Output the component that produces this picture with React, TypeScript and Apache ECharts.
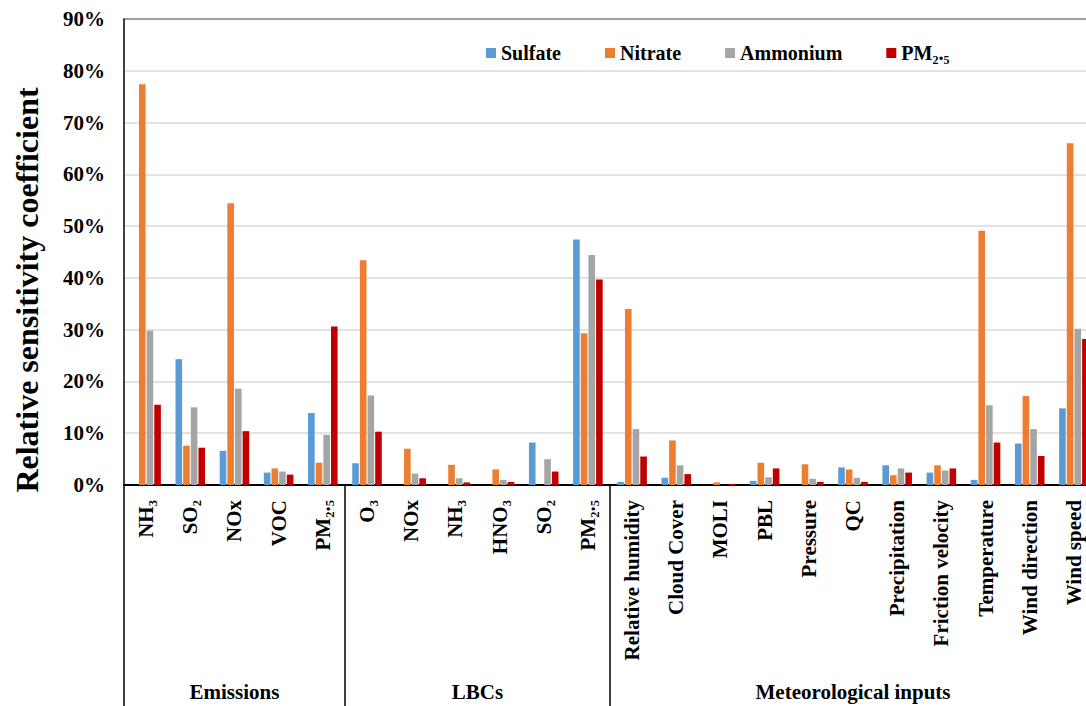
import React, { useEffect, useRef } from "react";
import * as echarts from "echarts";

const categories = [
  "NH₃", "SO₂", "NOx", "VOC", "PM₂.₅",
  "O₃", "NOx", "NH₃", "HNO₃", "SO₂", "PM₂.₅",
  "Relative humidity", "Cloud Cover", "MOLI", "PBL", "Pressure", "QC",
  "Precipitation", "Friction velocity", "Temperature", "Wind direction", "Wind speed",
];

const groups = ["Emissions", "LBCs", "Meteorological inputs"];
const groupBoundaries = [0, 5, 11];

const sulfate = [0, 24.3, 6.6, 2.4, 13.9, 4.2, 0, 0, 0, 8.2, 47.4, 0.6, 1.4, 0, 0.8, 0, 3.4, 3.8, 2.4, 1.0, 8.0, 14.8];
const nitrate = [77.4, 7.6, 54.4, 3.2, 4.3, 43.4, 7.0, 3.9, 3.0, 0, 29.3, 34.0, 8.6, 0.5, 4.3, 4.0, 3.0, 1.9, 3.8, 49.1, 17.2, 66.0];
const ammonium = [29.8, 15.0, 18.6, 2.6, 9.7, 17.3, 2.2, 1.3, 1.0, 5.0, 44.4, 10.8, 3.8, 0, 1.5, 1.2, 1.4, 3.2, 2.8, 15.4, 10.8, 30.2];
const pm25 = [15.5, 7.2, 10.4, 2.0, 30.6, 10.3, 1.3, 0.5, 0.6, 2.6, 39.7, 5.5, 2.1, 0.2, 3.2, 0.6, 0.6, 2.4, 3.2, 8.2, 5.6, 28.2];

const yTicks = [0, 10, 20, 30, 40, 50, 60, 70, 80, 90];
const yTitle = "Relative sensitivity coefficient";

const FONT = "'Liberation Serif', 'Times New Roman', serif";

export default function App() {
  const ref = useRef<HTMLDivElement>(null);
  useEffect(() => {
    if (!ref.current) return;
    const chart = echarts.init(ref.current, null, { renderer: "svg" });
    const seriesDefs = [
      { name: "Sulfate", data: sulfate, color: "#5B9BD5" },
      { name: "Nitrate", data: nitrate, color: "#ED7D31" },
      { name: "Ammonium", data: ammonium, color: "#A5A5A5" },
      { name: "PM₂.₅", data: pm25, color: "#C00000" },
    ];
    const gridLeft = 124;
    const plotW = 972;
    const catW = plotW / categories.length;
    const groupEnds = [...groupBoundaries.slice(1), categories.length];
    chart.setOption({
      animation: false,
      textStyle: { fontFamily: FONT },
      legend: {
        left: 481,
        top: 38,
        itemWidth: 10,
        itemHeight: 10,
        itemGap: 44,
        icon: "rect",
        textStyle: { fontFamily: FONT, fontWeight: "bold", fontSize: 20, color: "#000" },
        data: seriesDefs.map((s) => s.name),
      },
      grid: {
        left: gridLeft,
        width: plotW,
        top: 19,
        bottom: 221,
        containLabel: false,
        outerBoundsMode: "none",
      },
      xAxis: {
        type: "category",
        data: categories,
        axisLine: { lineStyle: { color: "#000", width: 2 } },
        axisTick: {
          show: true,
          alignWithLabel: false,
          interval: (i: number) => groupBoundaries.includes(i),
          length: 221,
          lineStyle: { color: "#000", width: 1.5 },
        },
        axisLabel: {
          interval: 0,
          rotate: 90,
          margin: 15,
          fontFamily: FONT,
          fontWeight: "bold",
          fontSize: 21,
          color: "#000",
        },
      },
      yAxis: {
        type: "value",
        min: yTicks[0],
        max: yTicks[yTicks.length - 1],
        interval: 10,
        axisLine: { show: true, lineStyle: { color: "#000", width: 1.5 } },
        axisTick: { show: false },
        axisLabel: {
          formatter: "{value}%",
          fontFamily: FONT,
          fontWeight: "bold",
          fontSize: 21,
          color: "#000",
          margin: 19,
        },
        splitLine: {
          lineStyle: {
            color: ["#d9d9d9", "#d9d9d9", "#d9d9d9", "#d9d9d9", "#d9d9d9", "#d9d9d9", "#d9d9d9", "#d9d9d9", "#d9d9d9", "#808080"],
            width: 1.5,
          },
        },
      },
      graphic: [
        {
          type: "text",
          x: 27,
          y: 290,
          rotation: Math.PI / 2,
          style: {
            text: yTitle,
            fontFamily: FONT,
            fontWeight: "bold",
            fontSize: 32,
            fill: "#000",
            textAlign: "center",
            textVerticalAlign: "middle",
          },
        },
        ...groups.map((g, i) => ({
          type: "text",
          x: gridLeft + ((groupBoundaries[i] + groupEnds[i]) / 2) * catW,
          y: 692,
          style: {
            text: g,
            fontFamily: FONT,
            fontWeight: "bold",
            fontSize: 21,
            fill: "#000",
            textAlign: "center",
            textVerticalAlign: "middle",
          },
        })),
      ],
      series: seriesDefs.map((s) => ({
        name: s.name,
        type: "bar",
        data: s.data,
        barWidth: 6.6,
        barGap: "16%",
        itemStyle: { color: s.color },
      })),
    });
    return () => chart.dispose();
  }, []);
  return (
    <div
      ref={ref}
      style={{ position: "absolute", left: 0, top: 0, width: 1086, height: 706, background: "#fff" }}
    />
  );
}
